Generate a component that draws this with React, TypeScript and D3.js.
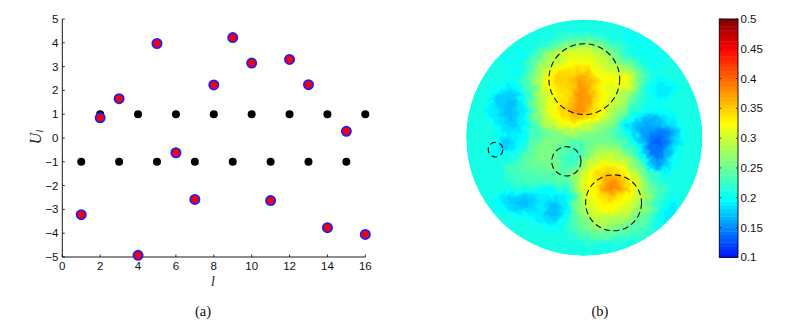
import React from "react";
import * as d3 from "d3";

const width = 801;
const height = 324;

// panel (a)
const levels = d3.range(1, 17);
const symbols = [-1, 1, -1, 1, -1, 1, -1, 1, -1, 1, -1, 1, -1, 1, -1, 1];
const received = [-3.22, 0.85, 1.65, -4.93, 3.97, -0.62, -2.58, 2.23, 4.22, 3.15, -2.63, 3.3, 2.24, -3.77, 0.28, -4.05];
const xTicks = [0, 2, 4, 6, 8, 10, 12, 14, 16];
const yTicks = [-5, -4, -3, -2, -1, 0, 1, 2, 3, 4, 5];

// panel (b), values in hundredths, 30 x 30 over the disc's box
const field = [
  [21,21,21,21,21,21,21,21,21,21,21,21,21,21,21,21,21,21,21,21,21,21,21,21,21,21,21,21,21,21],
  [21,21,21,21,21,21,21,21,21,21,21,21,21,21,21,21,21,21,21,21,20,20,20,21,21,21,21,21,21,21],
  [21,21,21,21,21,21,21,21,21,21,21,22,23,24,24,24,23,22,21,21,20,20,20,20,20,21,21,21,21,21],
  [21,21,21,21,21,21,20,21,21,22,24,26,27,28,29,29,28,26,24,23,21,20,20,20,20,20,21,21,21,21],
  [21,21,21,21,21,20,20,20,22,25,27,29,30,31,31,31,30,29,26,24,22,21,20,20,20,21,21,21,21,21],
  [21,21,21,21,21,20,20,21,24,27,29,30,31,32,32,32,31,30,28,26,25,23,21,20,20,21,21,21,21,21],
  [21,21,21,21,21,21,20,22,25,28,31,33,34,34,35,34,32,31,30,29,28,26,23,21,21,21,21,21,21,21],
  [21,21,21,21,21,20,21,23,26,30,32,35,35,35,37,36,34,32,32,33,32,28,24,21,20,20,21,21,21,21],
  [21,21,21,20,20,19,20,22,26,29,32,34,34,35,38,36,34,32,31,31,31,27,23,20,19,19,20,21,21,21],
  [21,21,21,20,18,18,18,21,25,29,31,33,34,35,38,37,35,32,31,29,28,25,22,20,19,19,20,21,21,21],
  [21,21,21,18,18,17,18,21,25,28,31,33,34,36,38,37,34,32,30,28,26,23,21,20,20,21,21,21,21,21],
  [21,21,20,19,18,17,18,20,25,28,31,33,35,37,38,36,34,32,29,27,24,22,20,20,20,20,21,21,21,21],
  [21,21,21,19,18,17,18,20,24,27,30,32,34,35,35,33,32,30,28,25,21,19,18,17,18,19,20,21,21,21],
  [21,21,21,21,19,18,18,20,23,26,28,30,31,32,31,30,28,27,25,22,19,17,16,16,16,17,18,20,21,21],
  [21,21,21,21,20,19,19,20,22,24,25,26,27,28,27,26,26,25,24,22,20,18,16,15,14,15,17,20,21,21],
  [21,21,21,21,18,18,19,21,24,25,26,26,25,24,24,25,25,25,25,24,22,20,17,14,13,15,17,20,21,21],
  [21,21,21,20,19,18,20,22,25,26,26,25,24,23,23,26,27,28,28,26,24,22,18,14,14,16,19,21,21,21],
  [21,21,21,21,21,21,22,24,25,26,26,25,23,22,23,26,29,30,30,29,27,24,20,15,14,17,20,21,21,21],
  [21,21,21,21,21,23,23,24,25,25,25,25,23,23,26,30,31,33,33,31,29,27,23,17,16,18,20,21,21,21],
  [21,21,21,21,21,23,23,24,24,24,24,25,24,26,28,32,34,35,35,34,32,29,26,22,20,20,21,21,21,21],
  [21,21,21,21,21,22,23,23,23,23,23,24,24,26,29,32,34,37,38,36,34,31,27,24,22,21,21,21,21,21],
  [21,21,21,21,21,21,21,21,21,20,20,21,21,24,29,32,33,37,39,37,35,31,28,25,23,22,21,21,21,21],
  [21,21,21,21,19,18,18,18,18,19,19,19,19,23,28,31,33,34,35,34,33,30,28,25,23,21,20,21,21,21],
  [21,21,21,20,19,18,17,17,18,19,18,17,19,23,27,30,32,33,33,32,31,29,27,25,22,20,19,21,21,21],
  [21,21,21,21,21,20,19,19,19,19,17,17,19,23,27,29,31,31,31,30,29,27,26,24,21,19,19,21,21,21],
  [21,21,21,21,21,21,21,21,20,19,18,18,20,23,25,27,29,29,28,28,27,25,24,23,20,19,21,21,21,21],
  [21,21,21,21,21,21,21,21,21,21,20,20,21,23,24,26,27,27,26,25,24,24,23,22,20,21,21,21,21,21],
  [21,21,21,21,21,21,21,21,21,21,21,21,21,22,23,24,24,24,24,23,23,22,22,21,21,21,21,21,21,21],
  [21,21,21,21,21,21,21,21,21,21,21,21,21,21,21,21,21,21,21,21,21,21,21,21,21,21,21,21,21,21],
  [21,21,21,21,21,21,21,21,21,21,21,21,21,21,21,21,21,21,21,21,21,21,21,21,21,21,21,21,21,21],
];

// dashed rings in disc units: centre x, centre y, radius
const ringX = [0, 0.248, -0.152, -0.752];
const ringY = [0.496, -0.552, -0.2, -0.101];
const ringR = [0.3, 0.237, 0.124, 0.062];

const barTicks = [0.1, 0.15, 0.2, 0.25, 0.3, 0.35, 0.4, 0.45, 0.5];
const jetStops = [0.1, 0.197, 0.325, 0.45, 0.5];
const jetColors = ["#0010ff", "#00ffff", "#ffff00", "#ff0000", "#800000"];

const x = d3.scaleLinear().domain([0, 16]).range([62.3, 365.3]);
const y = d3.scaleLinear().domain([-5, 5]).range([257, 19]);

const discX = d3.scaleLinear().domain([-1, 1]).range([466.3, 702.3]);
const discY = d3.scaleLinear().domain([-1, 1]).range([255.7, 19.7]);
const gridX = d3.scaleLinear().domain([0, 30]).range([466.3, 702.3]);
const gridY = d3.scaleLinear().domain([0, 30]).range([19.7, 255.7]);
const barY = d3.scaleLinear().domain([0.1, 0.5]).range([257.3, 19]);

const jet = d3.scaleLinear<string>().domain(jetStops).range(jetColors).clamp(true);
const step = 0.4 / 64;
const bands = d3.range(64).map((i) => 0.1 + i * step);

const flat = field.flat().map((v) => v / 100);
const contours = d3.contours().size([30, 30]).thresholds(bands)(flat);
const gridPath = d3.geoPath(
  d3.geoTransform({
    point(px, py) {
      this.stream.point(gridX(px), gridY(py));
    },
  })
);

const sans = "'Liberation Sans', Arial, sans-serif";
const serif = "'Liberation Serif', 'Times New Roman', serif";

export default function App() {
  return (
    <svg width={width} height={height} style={{ position: "absolute", left: 0, top: 0, background: "#fff" }}>
      <defs>
        <clipPath id="disc">
          <circle cx={discX(0)} cy={discY(0)} r={118} />
        </clipPath>
        {/* roughens the contour edges like the coarse mesh in the original */}
        <filter id="rough" x="-5%" y="-5%" width="110%" height="110%">
          <feTurbulence type="fractalNoise" baseFrequency="0.14" numOctaves={2} seed={4} result="n" />
          <feDisplacementMap in="SourceGraphic" in2="n" scale={11} xChannelSelector="R" yChannelSelector="G" />
        </filter>
      </defs>

      {/* panel (a) */}
      <g fontFamily={sans} fontSize={11.5} fill="#111">
        <path d={`M${x(0)},${y(5)}V${y(-5)}H${x(16)}`} fill="none" stroke="#000" strokeWidth={0.9} />
        {xTicks.map((t) => (
          <g key={t}>
            <line x1={x(t)} x2={x(t)} y1={y(-5)} y2={y(-5) - 2.5} stroke="#000" strokeWidth={0.8} />
            <text x={x(t)} y={270} textAnchor="middle">{t}</text>
          </g>
        ))}
        {yTicks.map((t) => (
          <g key={t}>
            <line x1={x(0)} x2={x(0) + 2.5} y1={y(t)} y2={y(t)} stroke="#000" strokeWidth={0.8} />
            <text x={58.5} y={y(t) + 4} textAnchor="end">{t < 0 ? "\u2212" + -t : t}</text>
          </g>
        ))}
      </g>
      {levels.map((l, i) => (
        <circle key={l} cx={x(l)} cy={y(symbols[i])} r={4} fill="#000" />
      ))}
      {levels.map((l, i) => (
        <circle key={l} cx={x(l)} cy={y(received[i])} r={4.6} fill="#f00010" stroke="#2020f5" strokeWidth={1.8} />
      ))}
      <text x={213} y={285.5} fontFamily={serif} fontStyle="italic" fontSize={14} textAnchor="middle" fill="#222">l</text>
      <g transform="translate(41,137) rotate(-90)" fontFamily={serif} fontStyle="italic" fill="#222">
        <text fontSize={16} textAnchor="middle">U<tspan fontSize={10} dy={2}>l</tspan></text>
      </g>
      <text x={203} y={316} fontFamily={serif} fontSize={14.5} textAnchor="middle" fill="#111">(a)</text>

      {/* panel (b) */}
      <g clipPath="url(#disc)">
        <circle cx={discX(0)} cy={discY(0)} r={118} fill={jet(0.21)} />
        <g filter="url(#rough)">
          {contours.map((c, i) => (
            <path key={i} d={gridPath(c) ?? undefined} fill={jet(c.value + step / 2)} />
          ))}
        </g>
      </g>
      {ringX.map((cx, i) => (
        <circle
          key={i}
          cx={discX(cx)}
          cy={discY(ringY[i])}
          r={discX(ringR[i]) - discX(0)}
          fill="none"
          stroke="#111"
          strokeWidth={1.1}
          strokeDasharray="6 3.5"
        />
      ))}

      {/* colour bar */}
      {bands.map((b) => (
        <rect key={b} x={719.3} width={18.7} y={barY(b + step)} height={barY(b) - barY(b + step) + 0.4} fill={jet(b + step / 2)} />
      ))}
      <rect x={719.3} y={19} width={18.7} height={238.3} fill="none" stroke="#000" strokeWidth={0.9} />
      <g fontFamily={sans} fontSize={11.5} fill="#111">
        {barTicks.map((t) => (
          <g key={t}>
            <line x1={719.3} x2={721.3} y1={barY(t)} y2={barY(t)} stroke="#222" strokeWidth={0.8} />
            <line x1={736} x2={738} y1={barY(t)} y2={barY(t)} stroke="#222" strokeWidth={0.8} />
            <text x={740.5} y={barY(t) + 4}>{t}</text>
          </g>
        ))}
      </g>
      <text x={600} y={316} fontFamily={serif} fontSize={14.5} textAnchor="middle" fill="#111">(b)</text>
    </svg>
  );
}
